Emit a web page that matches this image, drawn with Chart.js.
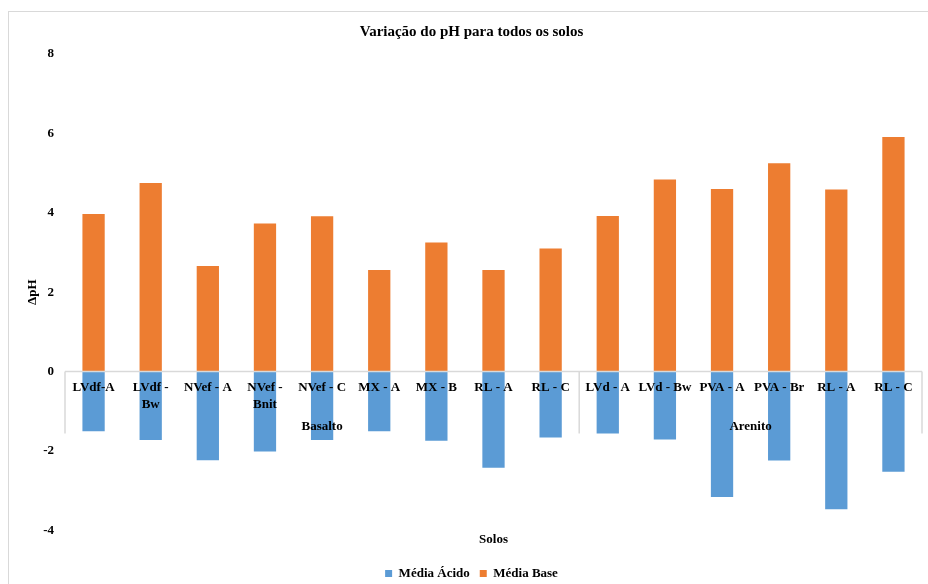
<!DOCTYPE html>
<html lang="pt">
<head>
<meta charset="UTF-8">
<title>Variação do pH</title>
<script src="https://cdn.jsdelivr.net/npm/chart.js@4.4.0/dist/chart.umd.min.js"></script>
<style>
  html, body { margin:0; padding:0; overflow:hidden; background:#fff; }
  #box { position:absolute; left:8px; top:11px; width:930px; height:600px; border:1px solid #d9d9d9; background:#fff; }
</style>
</head>
<body>
<div id="box"><canvas id="grafico" width="930" height="600"></canvas></div>
<script>
// dados
const solos = ['LVdf-A', ['LVdf -', 'Bw'], 'NVef - A', ['NVef -', 'Bnit'], 'NVef - C', 'MX - A', 'MX - B', 'RL - A', 'RL - C',
               'LVd - A', 'LVd - Bw', 'PVA - A', 'PVA - Br', 'RL - A', 'RL - C'];
const mediaAcido = [-1.50, -1.72, -2.23, -2.01, -1.72, -1.50, -1.74, -2.42, -1.66, -1.56, -1.71, -3.16, -2.24, -3.47, -2.52];
const mediaBase  = [3.97, 4.75, 2.66, 3.73, 3.91, 2.56, 3.25, 2.56, 3.10, 3.92, 4.84, 4.60, 5.25, 4.59, 5.91];
const grupos = ['Basalto', 'Arenito'];
const grupoTamanho = [9, 6];

const fonte = 'Liberation Serif, Times New Roman, serif';

// eixo zero, rótulos das categorias e grupos (estilo Excel)
const eixoCategorias = {
  id: 'eixoCategorias',
  afterDatasetsDraw(chart) {
    const c = chart.ctx, x = chart.scales.x, y = chart.scales.y;
    const y0 = y.getPixelForValue(0);
    const passo = x.getPixelForValue(1) - x.getPixelForValue(0);
    const esq = x.getPixelForValue(0) - passo / 2;
    const dir = x.getPixelForValue(solos.length - 1) + passo / 2;
    c.save();
    c.strokeStyle = '#d9d9d9';
    c.lineWidth = 1.5;
    c.beginPath();
    c.moveTo(esq, y0); c.lineTo(dir, y0);
    let i = 0;
    const limites = [esq];
    grupoTamanho.forEach(n => { i += n; limites.push(x.getPixelForValue(i - 1) + passo / 2); });
    limites.forEach(px => { c.moveTo(px, y0); c.lineTo(px, y0 + 62); });
    c.stroke();

    c.fillStyle = '#000';
    c.font = 'bold 13px ' + fonte;
    c.textAlign = 'center';
    c.textBaseline = 'middle';
    solos.forEach((lab, k) => {
      const linhas = Array.isArray(lab) ? lab : [lab];
      linhas.forEach((t, j) => c.fillText(t, x.getPixelForValue(k), y0 + 16 + j * 17));
    });
    grupos.forEach((g, k) => c.fillText(g, (limites[k] + limites[k + 1]) / 2, y0 + 55));
    c.restore();
  }
};

new Chart(document.getElementById('grafico'), {
  type: 'bar',
  data: {
    labels: solos,
    datasets: [
      { label: 'Média Ácido', data: mediaAcido, backgroundColor: '#5b9bd5' },
      { label: 'Média Base', data: mediaBase, backgroundColor: '#ed7d31' }
    ]
  },
  options: {
    responsive: false,
    animation: false,
    categoryPercentage: 1,
    barPercentage: 0.39,
    layout: { padding: { left: 12, right: 17, top: 0, bottom: 22 } },
    plugins: {
      title: {
        display: true,
        text: 'Variação do pH para todos os solos',
        color: '#000',
        font: { family: fonte, size: 15, weight: 'bold' },
        padding: { top: 11, bottom: 13 }
      },
      legend: {
        position: 'bottom',
        labels: {
          color: '#000',
          font: { family: fonte, size: 13, weight: 'bold' },
          boxWidth: 7, boxHeight: 7, padding: 10
        }
      },
      tooltip: { enabled: false }
    },
    scales: {
      x: {
        stacked: true,
        grid: { display: false, drawTicks: false },
        border: { display: false },
        ticks: { display: false },
        title: { display: true, text: 'Solos', color: '#000',
                 font: { family: fonte, size: 13, weight: 'bold' }, padding: { top: 1, bottom: 10 } }
      },
      y: {
        stacked: true,
        min: -4, max: 8,
        afterFit(s) { s.width = 44; },
        grid: { display: false, drawTicks: false },
        border: { display: false },
        ticks: { stepSize: 2, color: '#000', padding: 11,
                 font: { family: fonte, size: 13, weight: 'bold' } },
        title: { display: true, text: 'ΔpH', color: '#000',
                 font: { family: fonte, size: 13, weight: 'bold' }, padding: { top: 4, bottom: 0 } }
      }
    }
  },
  plugins: [eixoCategorias]
});
</script>
</body>
</html>
